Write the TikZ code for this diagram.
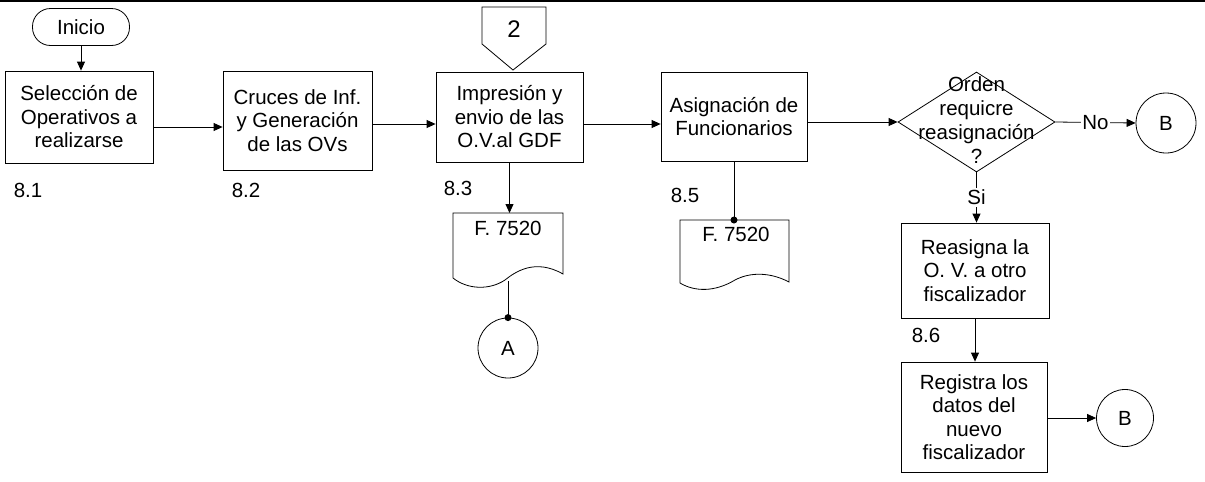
\documentclass[tikz,border=0pt]{standalone}
\usepackage{fontspec}
\setmainfont{Liberation Sans}
\usetikzlibrary{arrows.meta,shapes.geometric}
\begin{document}
\begin{tikzpicture}[x=1pt,y=-1pt,
  every node/.style={font=\fontsize{20.5}{23.5}\selectfont},
  ln/.style={line width=0.8pt},
  proc/.style={draw, ln, rectangle, align=center, inner sep=0pt},
  conn/.style={draw, ln, circle, minimum size=60pt, inner sep=0pt},
  lbl/.style={inner sep=0pt},
  arr/.style={ln, -{Triangle[length=9pt,width=8pt]}}]
\useasboundingbox (0,0) rectangle (1205,482);
% top rule
\draw[line width=2pt] (0,1) -- (1205,1);
% start
\node[draw, ln, rounded corners=18pt, minimum width=97pt, minimum height=37pt, inner sep=0pt] (ini) at (81,27) {Inicio};
% process boxes
\node[proc, minimum width=148pt, minimum height=92pt] (b1) at (79,117) {Selección de\\Operativos a\\realizarse};
\node[proc, minimum width=149pt, minimum height=99pt] (b2) at (297.5,120.5) {Cruces de Inf.\\y Generación\\de las OVs};
\node[proc, minimum width=147pt, minimum height=90pt] (b3) at (509.5,117) {Impresión y\\envio de las\\O.V.al GDF};
\node[proc, minimum width=146pt, minimum height=89pt] (b4) at (734,116.5) {Asignación de\\Funcionarios};
\node[proc, minimum width=148pt, minimum height=95pt] (b5) at (975,270.5) {Reasigna la\\O. V. a otro\\fiscalizador};
\node[proc, minimum width=146pt, minimum height=110pt] (b6) at (974,417) {Registra los\\datos del\\nuevo\\fiscalizador};
% decision
\node[draw, ln, diamond, minimum width=157pt, minimum height=100pt, inner sep=0pt] (dia) at (976.5,122) {};
\node[align=center, font=\fontsize{20.5}{24}\selectfont] (diatxt) at (976.5,120) {Orden\\requicre\\reasignación\\?};
% connectors (circles)
\node[conn] (B1) at (1166,123) {B};
\node[conn, minimum size=57pt] (B2) at (1125,418) {B};
\node[conn] (A) at (508,348) {A};
% off-page connector 2
\draw[ln] (482,7) -- (546,7) -- (546,44) -- (513,70) -- (482,44) -- cycle;
\node[font=\fontsize{24}{26}\selectfont] (two) at (514,29) {2};
% documents
\draw[ln] (453,213) -- (563,213) -- (563,274) .. controls (535,258) and (515,272) .. (505,280) .. controls (490,290) and (468,290) .. (453,278) -- cycle;
\coordinate (d1top) at (509.5,213);
\coordinate (d1bot) at (508,281);
\node (d1txt) at (508,228) {F. 7520};
\draw[ln] (680,220) -- (789,220) -- (789,282) .. controls (770,272) and (750,272) .. (735,280) .. controls (715,292) and (695,292) .. (680,283) -- cycle;
\coordinate (d2top) at (734,220);
\node (d2txt) at (736,234) {F. 7520};
% step labels
\node[lbl] (l81) at (28,190) {8.1};
\node[lbl] (l82) at (246,190) {8.2};
\node[lbl] (l83) at (458,188) {8.3};
\node[lbl] (l85) at (685,195) {8.5};
\node[lbl] (l86) at (926,335) {8.6};
% helper rows
\coordinate (r127) at (0,127);
\coordinate (r124) at (0,124);
\coordinate (r122) at (0,122);
% flows
\draw[arr] (ini.south) -- (ini.south |- b1.north);
\draw[arr] (b1.east |- r127) -- (b2.west |- r127);
\draw[arr] (b2.east |- r124) -- (b3.west |- r124);
\draw[arr] (b3.east |- r124) -- (b4.west |- r124);
\draw[arr] (b4.east |- r122) -- (dia.west);
\draw[arr] (dia.east) -- node[fill=white, inner sep=1.5pt] (no) {No} (B1.west);
\draw[arr] (dia.south) -- node[fill=white, inner sep=1.5pt] (si) {Si} (dia.south |- b5.north);
\draw[arr] (b5.south) -- (b5.south |- b6.north);
\draw[arr] (b6.east |- B2.west) -- (B2.west);
\draw[arr] (b3.south) -- (d1top);
\draw[ln] (d1bot) -- (A.north);
\fill (A.north) circle (3.5pt);
\draw[ln] (b4.south) -- (d2top);
\fill (d2top) circle (3.5pt);
\end{tikzpicture}
\end{document}
